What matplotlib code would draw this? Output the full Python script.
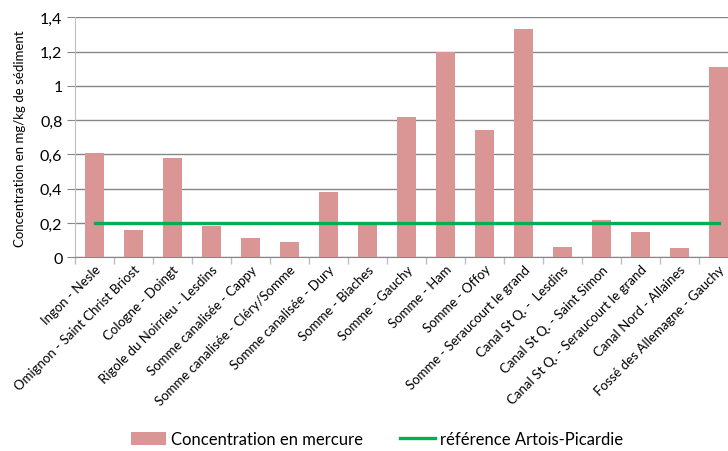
import matplotlib.pyplot as plt
from matplotlib.ticker import FuncFormatter, FixedLocator
import numpy as np

stations = ['Ingon - Nesle', 'Omignon - Saint Christ Briost', 'Cologne - Doingt',
            'Rigole du Noirrieu - Lesdins', 'Somme canalisée - Cappy',
            'Somme canalisée - Cléry/Somme', 'Somme canalisée - Dury', 'Somme - Biaches',
            'Somme - Gauchy', 'Somme - Ham', 'Somme - Offoy', 'Somme - Seraucourt le grand',
            'Canal St Q. -  Lesdins', 'Canal St Q. - Saint Simon',
            'Canal St Q. - Seraucourt le grand', 'Canal Nord - Allaines',
            'Fossé des Allemagne - Gauchy']
mercure = [0.61, 0.16, 0.58, 0.18, 0.11, 0.09, 0.38, 0.19, 0.82, 1.20, 0.74,
           1.33, 0.06, 0.22, 0.15, 0.055, 1.11]
reference = [0.2] * len(stations)

plt.rcParams['font.family'] = ['Lato', 'DejaVu Sans']

fig = plt.figure(figsize=(7.28, 4.52), dpi=100)
fig.patch.set_facecolor('white')
# axes runs a bit past the right edge, like the original export
ax = fig.add_axes([75 / 728, 193.7 / 452, 663 / 728, 240 / 452])

x = np.arange(len(stations))
bars = ax.bar(x, mercure, width=0.5, color='#D99694', zorder=3)
line, = ax.plot(x, reference, color='#00B050', linewidth=2.4, zorder=4)

ax.set_xlim(-0.5, len(stations) - 0.5)
ax.set_ylim(0, 1.4)
ax.set_yticks(np.arange(0, 1.41, 0.2))
ax.yaxis.set_major_formatter(FuncFormatter(lambda v, p: ('%g' % round(v, 1)).replace('.', ',')))
ax.grid(axis='y', color='#868686', linewidth=1.0, zorder=0)

ax.set_xticks(x)
ax.set_xticklabels(stations, rotation=45, ha='right', va='top', rotation_mode='anchor',
                   fontsize=9.5)
ax.tick_params(axis='x', which='major', length=0, pad=4)
ax.xaxis.set_minor_locator(FixedLocator(np.arange(-0.5, len(stations), 1.0)))
ax.tick_params(axis='x', which='minor', length=5, color='#BFBFBF', width=1)
ax.tick_params(axis='y', length=6, color='#868686', labelsize=11.5, pad=3)

for s in ['top', 'right']:
    ax.spines[s].set_visible(False)
ax.spines['left'].set_color('#BFBFBF')
ax.spines['bottom'].set_color('#868686')

ax.set_ylabel('Concentration en mg/kg de sédiment', fontsize=9.5)
ax.yaxis.set_label_coords(-0.074, 0.5)

fig.legend([bars, line], ['Concentration en mercure', 'référence Artois-Picardie'],
           loc='center', bbox_to_anchor=(377 / 728, 1 - 440 / 452), ncol=2,
           frameon=False, fontsize=12, handlelength=2.1, handleheight=0.85,
           columnspacing=2.2, handletextpad=0.3)

fig.savefig('out.png', dpi=100, facecolor='white')
